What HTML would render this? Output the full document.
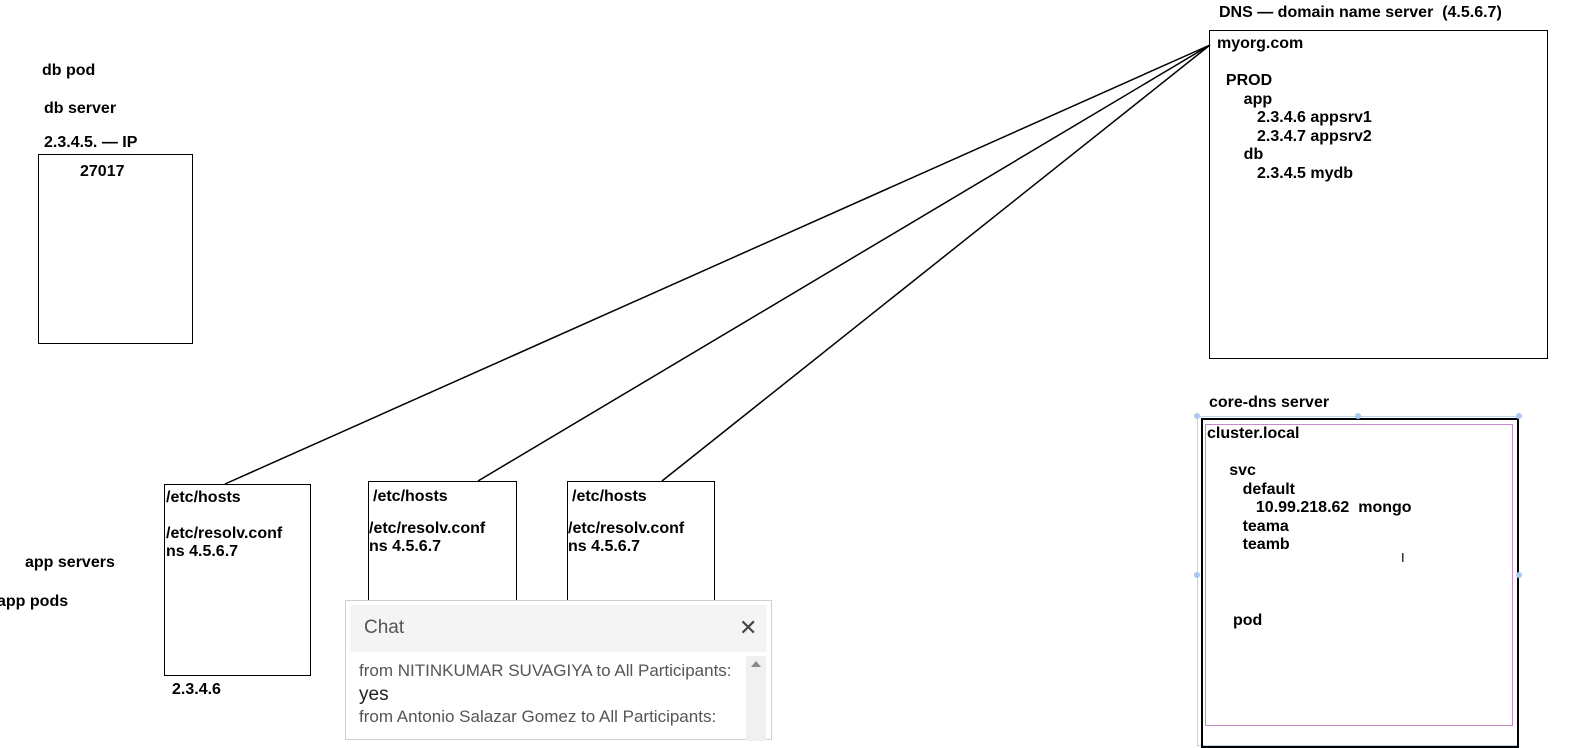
<!DOCTYPE html>
<html><head><meta charset="utf-8"><style>
body{margin:0;width:1585px;height:737px;background:#fff;position:relative;overflow:hidden;font-family:"Liberation Sans",Arial,sans-serif;}
.t{position:absolute;font-weight:bold;font-size:16px;color:#000;white-space:pre;line-height:18px;}
.b{position:absolute;border:1.5px solid #000;box-sizing:border-box;}
</style></head><body>
<svg width="1585" height="737" style="position:absolute;left:0;top:0">
<g stroke="#000" stroke-width="1.5" fill="none">
<line x1="1210" y1="45" x2="225" y2="484"/>
<line x1="1210" y1="45" x2="478" y2="481"/>
<line x1="1210" y1="45" x2="662" y2="481"/>
</g>
</svg>
<div class="t" style="left:42px;top:62px">db pod</div>
<div class="t" style="left:44px;top:100px">db server</div>
<div class="t" style="left:44px;top:134px">2.3.4.5. — IP</div>
<div class="b" style="left:38px;top:154px;width:155px;height:190px"></div>
<div class="t" style="left:80px;top:163px">27017</div>

<div class="t" style="left:25px;top:554px">app servers</div>
<div class="t" style="left:-3px;top:593px">app pods</div>

<div class="b" style="left:164px;top:484px;width:147px;height:192px"></div>
<div class="t" style="left:166px;top:489px">/etc/hosts

/etc/resolv.conf
ns 4.5.6.7</div>
<div class="t" style="left:172px;top:681px">2.3.4.6</div>

<div class="b" style="left:368px;top:481px;width:149px;height:140px"></div>
<div class="t" style="left:373px;top:488px">/etc/hosts</div>
<div class="t" style="left:369px;top:520px">/etc/resolv.conf
ns 4.5.6.7</div>

<div class="b" style="left:567px;top:481px;width:148px;height:140px"></div>
<div class="t" style="left:572px;top:488px">/etc/hosts</div>
<div class="t" style="left:568px;top:520px">/etc/resolv.conf
ns 4.5.6.7</div>

<div class="t" style="left:1219px;top:4px">DNS — domain name server  (4.5.6.7)</div>
<div class="b" style="left:1209px;top:30px;width:339px;height:329px"></div>
<div class="t" style="left:1217px;top:35px;line-height:18.5px">myorg.com

  PROD
      app
         2.3.4.6 appsrv1
         2.3.4.7 appsrv2
      db
         2.3.4.5 mydb</div>

<div class="t" style="left:1209px;top:394px">core-dns server</div>
<div style="position:absolute;left:1197px;top:416px;width:322px;height:330px;border:1px solid #bcd6f2;box-sizing:border-box"></div>
<div class="b" style="left:1201px;top:418px;width:318px;height:330px;border-width:2.5px"></div>
<div style="position:absolute;left:1205px;top:424px;width:308px;height:302px;border:1.5px solid #c58ac8;box-sizing:border-box"></div>
<div class="t" style="left:1207px;top:425px;line-height:18.5px">cluster.local

     svc
        default
           10.99.218.62  mongo
        teama
        teamb</div>
<div class="t" style="left:1233px;top:612px">pod</div>
<div style="position:absolute;left:1401px;top:550px;font-size:13px">I</div>
<div style="position:absolute;left:1194px;top:413px;width:6px;height:6px;border-radius:3px;background:#a9c8ef"></div>
<div style="position:absolute;left:1355px;top:413px;width:6px;height:6px;border-radius:3px;background:#a9c8ef"></div>
<div style="position:absolute;left:1516px;top:413px;width:6px;height:6px;border-radius:3px;background:#a9c8ef"></div>
<div style="position:absolute;left:1194px;top:572px;width:6px;height:6px;border-radius:3px;background:#a9c8ef"></div>
<div style="position:absolute;left:1516px;top:572px;width:6px;height:6px;border-radius:3px;background:#a9c8ef"></div>

<div style="position:absolute;left:345px;top:600px;width:427px;height:140px;background:#fff;border:1px solid #d0d0d0;box-sizing:border-box">
 <div style="position:absolute;left:4px;top:4px;width:417px;height:47px;background:#f4f4f4"></div>
 <div style="position:absolute;left:18px;top:16px;font-size:19px;color:#555">Chat</div>
 <div style="position:absolute;left:393px;top:14px;font-size:22px;color:#444">✕</div>
 <div style="position:absolute;left:400px;top:55px;width:20px;height:85px;background:#f0f0f0"></div>
 <div style="position:absolute;left:405px;top:60px;width:0;height:0;border-left:5px solid transparent;border-right:5px solid transparent;border-bottom:6px solid #888"></div>
 <div style="position:absolute;left:13px;top:60px;font-size:17px;color:#555;line-height:20px;white-space:nowrap">from NITINKUMAR SUVAGIYA to All Participants:</div>
 <div style="position:absolute;left:13px;top:83px;font-size:19px;color:#222">yes</div>
 <div style="position:absolute;left:13px;top:106px;font-size:17px;color:#555;white-space:nowrap">from Antonio Salazar Gomez to All Participants:</div>
</div>
</body></html>
